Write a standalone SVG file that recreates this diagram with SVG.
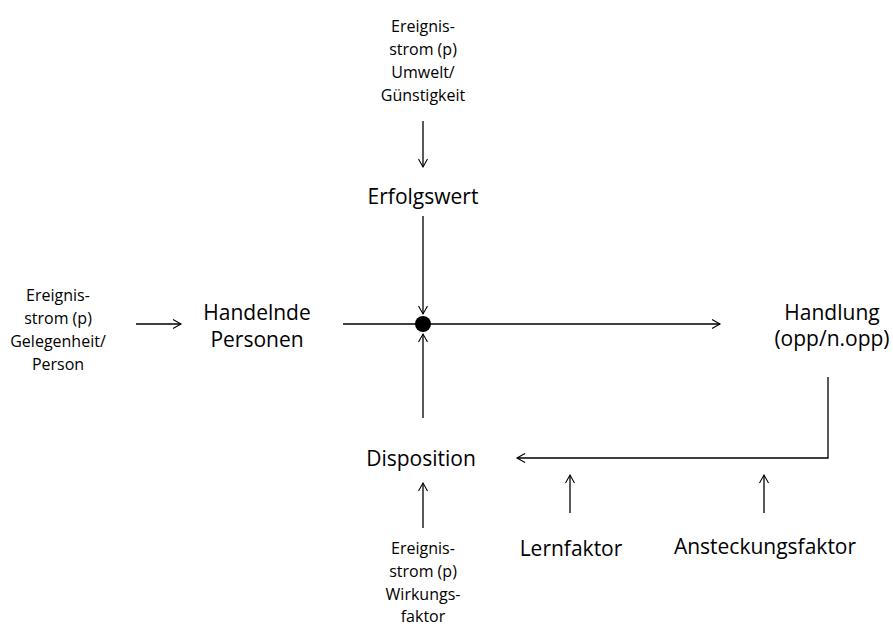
<svg xmlns="http://www.w3.org/2000/svg" width="893" height="628" viewBox="0 0 893 628">
<style>
text{font-family:"Open Sans","Liberation Sans",sans-serif;fill:#000;text-anchor:middle}
.s{font-size:16px}
.l{font-size:21px}
.c{stroke:#000;stroke-width:1.3;fill:none}
</style>
<defs>
<marker id="a" markerWidth="12" markerHeight="12" refX="9" refY="6" orient="auto" markerUnits="userSpaceOnUse">
<path d="M1,1.5 L9,6 L1,10.5" fill="none" stroke="#000" stroke-width="1.1"/>
</marker>
</defs>
<rect width="893" height="628" fill="#fff"/>
<g id="connectors">
<line class="c" x1="423" y1="121" x2="423" y2="167" marker-end="url(#a)"/>
<line class="c" x1="423" y1="216" x2="423" y2="314" marker-end="url(#a)"/>
<line class="c" x1="423" y1="418" x2="423" y2="334" marker-end="url(#a)"/>
<line class="c" x1="343" y1="324" x2="720" y2="324" marker-end="url(#a)"/>
<line class="c" x1="136" y1="324" x2="181" y2="324" marker-end="url(#a)"/>
<polyline class="c" points="828,377 828,458 517,458" marker-end="url(#a)"/>
<line class="c" x1="423" y1="528" x2="423" y2="483" marker-end="url(#a)"/>
<line class="c" x1="570" y1="513" x2="570" y2="475" marker-end="url(#a)"/>
<line class="c" x1="764" y1="513" x2="764" y2="475" marker-end="url(#a)"/>
</g>
<g id="junction"><circle cx="423" cy="324" r="8" fill="#000"/></g>
<g id="ereignis-umwelt">
<text class="s" x="423" y="32">Ereignis-</text>
<text class="s" x="423" y="55">strom (p)</text>
<text class="s" x="423" y="78">Umwelt/</text>
<text class="s" x="423" y="101">Günstigkeit</text>
</g>
<g id="erfolgswert"><text class="l" x="423" y="204">Erfolgswert</text></g>
<g id="ereignis-gelegenheit">
<text class="s" x="58" y="301">Ereignis-</text>
<text class="s" x="58" y="324">strom (p)</text>
<text class="s" x="58" y="347">Gelegenheit/</text>
<text class="s" x="58" y="370">Person</text>
</g>
<g id="handelnde"><text class="l" x="257" y="320">Handelnde</text><text class="l" x="257" y="347">Personen</text></g>
<g id="handlung"><text class="l" x="832" y="320">Handlung</text><text class="l" x="832" y="346">(opp/n.opp)</text></g>
<g id="disposition"><text class="l" x="421" y="466">Disposition</text></g>
<g id="ereignis-wirkung">
<text class="s" x="423" y="554">Ereignis-</text>
<text class="s" x="423" y="577">strom (p)</text>
<text class="s" x="423" y="600">Wirkungs-</text>
<text class="s" x="423" y="622">faktor</text>
</g>
<g id="lernfaktor"><text class="l" x="571" y="556">Lernfaktor</text></g>
<g id="ansteckungsfaktor"><text class="l" x="765" y="554">Ansteckungsfaktor</text></g>
</svg>
